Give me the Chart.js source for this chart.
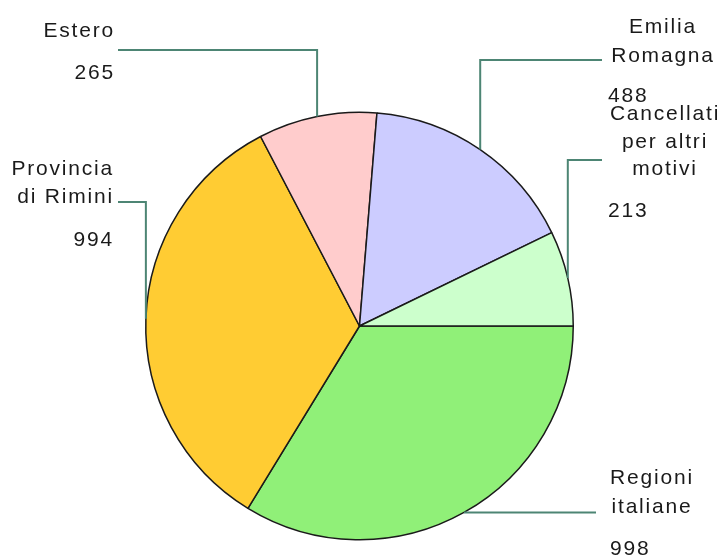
<!DOCTYPE html>
<html>
<head>
<meta charset="utf-8">
<script src="https://cdn.jsdelivr.net/npm/chart.js@4/dist/chart.umd.min.js"></script>
<style>
  html, body { margin: 0; padding: 0; background: #fff; }
  canvas { display: block; }
</style>
</head>
<body>
<canvas id="chartOne" width="724" height="555"></canvas>
<script>
// data
const categories = ['Regioni italiane', 'Provincia di Rimini', 'Estero', 'Emilia Romagna', 'Cancellati per altri motivi'];
const values = [998, 994, 265, 488, 213];
const labelLines = [['Regioni', 'italiane'], ['Provincia', 'di Rimini'], ['Estero'], ['Emilia', 'Romagna'], ['Cancellati', 'per altri', 'motivi']];
const sliceColors = ['#90f078', '#ffcc33', '#ffcccc', '#ccccff', '#ccffcc'];

// where each callout sits (layout only)
const callouts = [
    { lineY: null, lineEndX: 596, align: 'center', textX: 652, nameY: [484, 513], valueX: 610, valueAlign: 'left', valueY: 555 },
    { lineY: 202, lineEndX: 118, align: 'right', textX: 114, nameY: [175, 203], valueX: 114, valueAlign: 'right', valueY: 246 },
    { lineY: 50, lineEndX: 118, align: 'right', textX: 115, nameY: [37], valueX: 115, valueAlign: 'right', valueY: 79 },
    { lineY: 60, lineEndX: 602, align: 'center', textX: 663, nameY: [33, 62], valueX: 608, valueAlign: 'left', valueY: 102 },
    { lineY: 160, lineEndX: 602, align: 'center', textX: 665, nameY: [120, 148, 175], valueX: 608, valueAlign: 'left', valueY: 217 }
];

const calloutPlugin = {
    id: 'callouts',
    afterDraw(chart) {
        const ctx = chart.ctx;
        const arcs = chart.getDatasetMeta(0).data;
        ctx.save();
        arcs.forEach((arc, i) => {
            const c = callouts[i];
            const p = arc.getProps(['x', 'y', 'startAngle', 'endAngle', 'outerRadius'], true);
            const mid = (p.startAngle + p.endAngle) / 2;
            const ax = p.x + p.outerRadius * Math.cos(mid);
            const ay = p.y + p.outerRadius * Math.sin(mid);

            ctx.strokeStyle = '#4d8574';
            ctx.lineWidth = 2;
            ctx.beginPath();
            ctx.moveTo(ax, ay);
            if (c.lineY !== null) {
                ctx.lineTo(ax, c.lineY);
                ctx.lineTo(c.lineEndX, c.lineY);
            } else {
                ctx.lineTo(c.lineEndX, ay);
            }
            ctx.stroke();

            ctx.fillStyle = '#1a1a1a';
            ctx.font = '21px "Liberation Sans", Arial, sans-serif';
            ctx.letterSpacing = '1.8px';
            ctx.textBaseline = 'alphabetic';
            ctx.textAlign = c.align;
            labelLines[i].forEach((line, k) => {
                ctx.fillText(line, c.textX, c.nameY[k]);
            });
            ctx.textAlign = c.valueAlign;
            ctx.fillText(String(values[i]), c.valueX, c.valueY);
        });
        ctx.restore();
    }
};

const ctx = document.getElementById('chartOne').getContext('2d');
const myChart = new Chart(ctx, {
    type: 'pie',
    data: {
        labels: categories,
        datasets: [
            {
                data: values,
                backgroundColor: sliceColors,
                borderColor: '#1a1a1a',
                borderWidth: 1.5,
                hoverOffset: 0
            }
        ]
    },
    options: {
        responsive: false,
        animation: false,
        rotation: 90,
        layout: {
            padding: { left: 145, right: 150, top: 111, bottom: 14 }
        },
        plugins: {
            legend: false,
            tooltip: { enabled: false }
        }
    },
    plugins: [calloutPlugin]
});
</script>
</body>
</html>
